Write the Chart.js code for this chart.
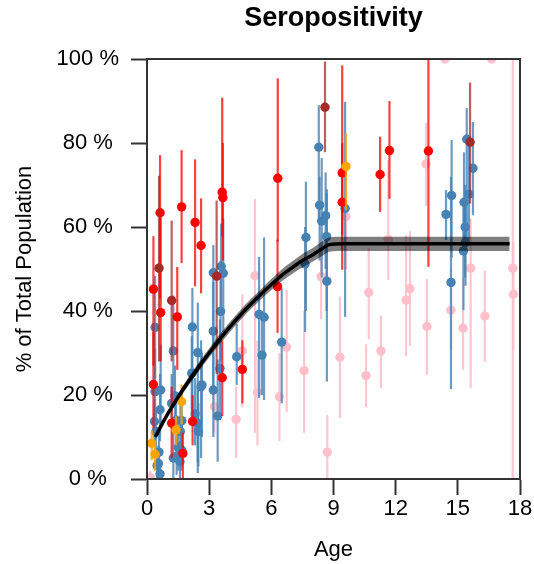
<!DOCTYPE html>
<html><head><meta charset="utf-8">
<script src="https://cdn.jsdelivr.net/npm/chart.js@4.4.1/dist/chart.umd.min.js"></script>
<style>html,body{margin:0;padding:0;background:#fff}</style>
</head><body>
<canvas id="c" width="534" height="564" style="width:534px;height:564px;display:block"></canvas>
<script>
// ---- Data ----
const xTicks = [0, 3, 6, 9, 12, 15, 18];
const yTicks = [0, 20, 40, 60, 80, 100];

const pinkAge = [0.16, 3.25, 4.6, 4.3, 5.21, 5.33, 6.39, 6.74, 7.58, 8.4, 8.7, 9.31, 9.6, 10.57, 10.7, 11.29, 11.64, 12.5, 12.69, 13.47, 13.51, 14.38, 14.67, 15.25, 15.62, 16.3, 16.63, 17.65, 17.68];
const pinkVal = [0.3, 17.2, 30.5, 14.2, 48.4, 20.6, 19.6, 31.4, 25.8, 48.2, 6.4, 29.0, 62.5, 24.6, 44.4, 30.5, 57.0, 42.6, 45.3, 75.0, 36.3, 100, 40.2, 35.9, 50.2, 38.8, 100, 50.2, 44.0];
const pinkLo  = [0, 11, 17, 5, 11, 8, 9, 16, 11, 38, 0, 14.5, 50, 17.1, 33.3, 21.7, 47.4, 29.3, 31.7, 65, 24.8, 100, 30.7, 26, 21.7, 27.9, 100, 0, 30.7];
const pinkHi  = [2, 22, 44, 22, 66.7, 33, 30, 45, 40, 58, 15.2, 43.4, 75, 32.1, 55, 38.9, 76, 58, 59, 84.8, 47.6, 100, 50, 48, 62, 49.6, 100, 100, 56.5];

const blueAge = [0.36,0.39,0.39,0.43,0.49,0.55,0.58,0.63,0.66,0.63, 1.19,1.27,1.35,1.40,1.27,1.43,1.59,1.67,1.61,1.68,1.51, 2.19,2.16,2.45,2.61,2.65,2.32,2.45,2.48, 3.20,3.20,3.20,3.41,3.58,3.68,3.52,3.55, 4.33, 5.41,5.65,5.55, 6.50, 7.63,7.67, 8.29,8.33,8.43,8.62,8.67,8.68, 9.56, 14.43,14.7,14.67, 15.3,15.35,15.37,15.27,15.43,15.54,15.73];
const blueVal = [13.7,20.8,36.1,11.3,3.2,3.7,6.4,1.2,21.2,16.5, 18.0,30.5,19.8,14.0,5.0,5.4,4.1,6.9,11.3,13.9,7.5, 36.2,25.2,30.1,22.0,22.4,15.5,13.3,11.3, 49.1,35.2,21.2,15.0,50.6,49.0,26.3,39.9, 29.1, 39.2,38.5,29.5, 32.6, 51.2,57.5, 79.0,65.2,61.4,62.7,57.7,47.1, 64.4, 63.0,67.5,46.8, 65.9,60.0,56.3,54.3,80.9,67.8,74.0];
const blueLo  = [9,11,24,6,0,0,2,0,12,9, 12,18.2,13,8,0,1,0,2,5,7,2, 14.8,16,1.4,5,10,8,4,3, 31.8,20,10,4.1,39.5,35,14,28, 22.4, 19.3,18.8,20, 18, 35,40, 61.6,52,48,50,40,23.2, 38.6, 56.9,52.7,21.4, 54.8,48,46,40.2,55.7,57,62.8];
const blueHi  = [19,31,48.3,16,7,8,11,4,32,25, 25,43.7,27,20,12,11,9,13,18,21,14, 45.5,34,42,33,30,24,22,18, 55.7,47,30,28.4,60.8,62,38,52, 36.9, 52.9,57.5,38, 45.4, 60,70.8, 89,72,76.4,73,68,69, 89.8, 68.8,80.7,71.9, 77.8,70,66,65.9,88.3,80,85];

const redAge = [0.31, 0.31, 0.63, 0.66, 1.19, 1.46, 1.67, 1.73, 2.2, 2.32, 2.61, 3.63, 3.66, 3.63, 4.6, 6.31, 6.3, 9.42, 9.42, 11.25, 11.7, 13.58];
const redVal = [45.2, 22.5, 63.4, 39.6, 13.3, 38.6, 64.8, 6.1, 13.7, 61.1, 55.6, 68.3, 67.0, 24.1, 26.1, 71.6, 45.8, 72.9, 65.9, 72.5, 78.2, 78.1];
const redLo  = [27, 12, 42.9, 28, 5, 26, 51.4, 0, 8, 45.9, 44.2, 57.8, 52, 15, 18, 56.5, 34.8, 58, 49.8, 63.6, 66.7, 50.5];
const redHi  = [57.8, 35, 77.1, 63, 22, 50.5, 78.3, 11, 20, 76.1, 66.8, 90.8, 80, 33, 33, 95.4, 57, 98.5, 80, 81.5, 90, 100];

const orangeAge = [0.23, 0.39, 1.4, 1.67, 9.6];
const orangeVal = [8.5, 5.9, 11.7, 18.4, 74.4];
const orangeLo  = [4.5, 2, 8, 13, 64];
const orangeHi  = [11.5, 9, 15, 22.5, 82.3];

const darkAge = [0.58, 1.19, 3.36, 8.59, 15.59];
const darkVal = [50.2, 42.5, 48.3, 88.5, 80.2];
const darkLo  = [28, 28, 25, 77.8, 65.6];
const darkHi  = [72.2, 61.5, 66.3, 99.4, 94.4];

const fitAge = [0.4, 0.75, 1.0, 1.5, 2.0, 2.5, 3.0, 3.5, 4.0, 4.5, 5.0, 5.5, 6.0, 6.5, 7.0, 7.5, 8.0, 8.5, 8.8, 9.5, 17.5];
const fitVal = [10.0, 13.3, 15.5, 19.5, 23.2, 26.7, 30.0, 33.2, 36.2, 39.0, 41.6, 44.0, 46.3, 48.5, 50.3, 52.0, 53.4, 55.0, 55.8, 56.0, 56.0];
const fitLo  = [9.6, 12.8, 14.8, 18.7, 22.2, 25.6, 28.9, 32.0, 35.0, 37.8, 40.4, 42.8, 45.0, 47.1, 48.8, 50.4, 51.8, 53.3, 54.1, 54.3, 54.3];
const fitHi  = [10.4, 13.8, 16.2, 20.3, 24.2, 27.8, 31.1, 34.4, 37.4, 40.2, 42.8, 45.2, 47.6, 49.9, 51.8, 53.6, 55.0, 56.7, 57.5, 57.7, 57.7];

// ---- helpers ----
const FONT = "'Liberation Sans', Arial, sans-serif";
const pts = (xs, ys) => xs.map((x, i) => ({x: x, y: ys[i]}));

function pointSet(label, xs, ys, lo, hi, color, barColor, order) {
  return {
    label, type: 'scatter', data: pts(xs, ys), errLo: lo, errHi: hi, errColor: barColor,
    backgroundColor: color, borderWidth: 0, pointRadius: 4.7, pointHoverRadius: 4.7, order
  };
}

const errorBars = {
  id: 'errorBars',
  beforeDatasetDraw(chart, args) {
    const ds = chart.data.datasets[args.index];
    if (!ds.errLo) return;
    const {ctx, chartArea, scales: {x, y}} = chart;
    ctx.save();
    ctx.beginPath();
    ctx.rect(chartArea.left, chartArea.top, chartArea.width, chartArea.height);
    ctx.clip();
    ctx.strokeStyle = ds.errColor;
    ctx.lineWidth = 2.2;
    ds.data.forEach((p, i) => {
      const px = x.getPixelForValue(p.x);
      ctx.beginPath();
      ctx.moveTo(px, y.getPixelForValue(ds.errLo[i]));
      ctx.lineTo(px, y.getPixelForValue(ds.errHi[i]));
      ctx.stroke();
    });
    ctx.restore();
  }
};

const boxPlugin = {
  id: 'box',
  afterDraw(chart) {
    const {ctx, chartArea: a} = chart;
    ctx.save();
    ctx.strokeStyle = '#333';
    ctx.lineWidth = 2;
    ctx.strokeRect(a.left, a.top, a.right - a.left, a.bottom - a.top);
    ctx.restore();
  }
};

new Chart(document.getElementById('c'), {
  type: 'scatter',
  data: {
    datasets: [
      {label: 'fit', type: 'line', data: pts(fitAge, fitVal), borderColor: '#000', borderWidth: 3.5,
       pointRadius: 0, fill: false, cubicInterpolationMode: 'monotone', order: 0},
      {label: 'upper', type: 'line', data: pts(fitAge, fitHi), borderWidth: 0, borderColor: 'rgba(0,0,0,0)',
       pointRadius: 0, fill: '+1', backgroundColor: 'rgba(0,0,0,0.5)', cubicInterpolationMode: 'monotone', order: 1},
      {label: 'lower', type: 'line', data: pts(fitAge, fitLo), borderWidth: 0, borderColor: 'rgba(0,0,0,0)',
       pointRadius: 0, fill: false, cubicInterpolationMode: 'monotone', order: 1},
      pointSet('darkred', darkAge, darkVal, darkLo, darkHi, '#A52A2A', 'rgba(165,42,42,0.75)', 2),
      pointSet('orange', orangeAge, orangeVal, orangeLo, orangeHi, '#FFA500', 'rgba(255,165,0,0.8)', 3),
      pointSet('red', redAge, redVal, redLo, redHi, '#FF0000', 'rgba(255,0,0,0.75)', 4),
      pointSet('blue', blueAge, blueVal, blueLo, blueHi, '#4682B4', 'rgba(70,130,180,0.8)', 5),
      pointSet('pink', pinkAge, pinkVal, pinkLo, pinkHi, '#FFC0CB', 'rgba(255,192,203,0.9)', 6)
    ]
  },
  options: {
    responsive: false,
    animation: false,
    devicePixelRatio: 1,
    layout: {padding: {left: 0, right: 14, top: 0, bottom: 0}},
    plugins: {
      legend: {display: false},
      tooltip: {enabled: false},
      title: {
        display: true, text: 'Seropositivity', fullSize: false, color: '#000',
        font: {family: FONT, size: 27, weight: 'bold', lineHeight: 1.2},
        padding: {top: 2, bottom: 24.6}
      }
    },
    scales: {
      x: {
        type: 'linear', min: 0, max: 18,
        afterBuildTicks: s => { s.ticks = xTicks.map(v => ({value: v})); },
        afterFit: s => { s.height = 85; },
        grid: {drawOnChartArea: false, drawTicks: true, tickLength: 16, tickWidth: 2, tickColor: '#333'},
        border: {display: true, color: '#333', width: 2},
        ticks: {color: '#000', padding: 1, maxRotation: 0, font: {family: FONT, size: 22}},
        title: {display: true, text: 'Age', color: '#000', font: {family: FONT, size: 22}, padding: {top: 0, bottom: 1}}
      },
      y: {
        type: 'linear', min: 0, max: 100,
        afterBuildTicks: s => { s.ticks = yTicks.map(v => ({value: v})); },
        afterFit: s => { s.width = 147; },
        grid: {drawOnChartArea: false, drawTicks: true, tickLength: 16, tickWidth: 2, tickColor: '#333'},
        border: {display: true, color: '#333', width: 2},
        ticks: {color: '#000', padding: 12, crossAlign: 'center', font: {family: FONT, size: 22},
                callback: v => v + ' %'},
        title: {display: true, text: '% of Total Population', color: '#000', font: {family: FONT, size: 22}, padding: {top: 12, bottom: 0}}
      }
    }
  },
  plugins: [errorBars, boxPlugin]
});
</script>
</body></html>
